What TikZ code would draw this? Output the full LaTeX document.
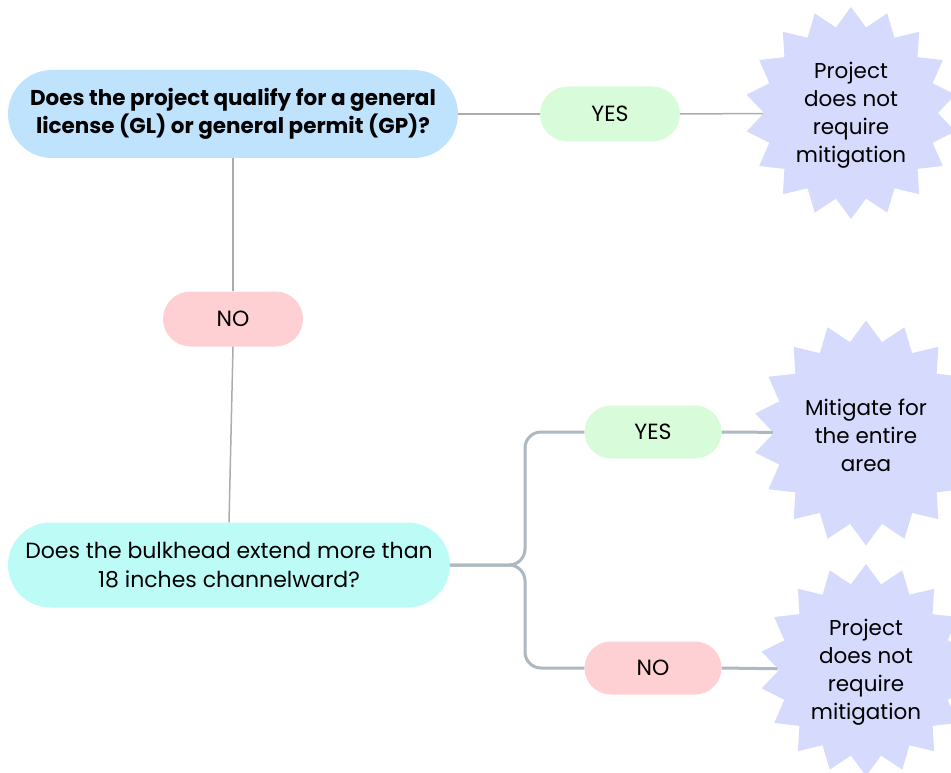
\documentclass[tikz,border=0pt]{standalone}
\usepackage{fontspec}
\setmainfont{Poppins}
\usetikzlibrary{shapes.geometric,shapes.misc}
\definecolor{qone}{RGB}{191,227,253}
\definecolor{qtwo}{RGB}{189,252,246}
\definecolor{yesc}{RGB}{216,252,218}
\definecolor{noc}{RGB}{255,208,211}
\definecolor{starc}{RGB}{214,218,252}
\definecolor{thinc}{RGB}{172,172,172}
\definecolor{branchc}{RGB}{174,184,192}
\tikzset{
  question/.style={rounded rectangle, inner sep=0pt, align=center, font=\fontsize{22}{28.5}\selectfont},
  pill/.style={rounded rectangle, minimum width=140pt, minimum height=55pt, inner sep=0pt, font=\fontsize{22}{26}\selectfont},
  burst/.style={star, star points=18, star point ratio=1.22, inner sep=0pt, fill=starc},
  bursttext/.style={align=center, font=\fontsize{21.5}{28}\selectfont, yshift=-2.5pt},
  thinline/.style={draw=thinc, line width=1.5pt},
  branch/.style={draw=branchc, line width=3pt, rounded corners=16pt}
}
\begin{document}
\begin{tikzpicture}[x=1pt,y=-1pt]
\useasboundingbox (0,0) rectangle (951,773);
\node[question, fill=qone, minimum width=450pt, minimum height=88pt, font=\fontsize{21.5}{28.5}\selectfont\bfseries] (q1) at (233,114)
  {\rule{0pt}{3pt}Does the project qualify for a general\\license (GL) or general permit (GP)?};
\node[pill, fill=yesc] (y1) at (610,114) {YES};
\node[burst, minimum size=212pt] (s1) at (851,113) {};
\node[bursttext] (t1) at (s1.center) {Project\\does not\\require\\mitigation};
\node[pill, fill=noc] (n1) at (233,319) {NO};
\node[question, fill=qtwo, minimum width=442pt, minimum height=85pt] (q2) at (229,565)
  {Does the bulkhead extend more than\\18 inches channelward?};
\coordinate (fork) at (525,565);
\node[pill, fill=yesc, minimum width=137pt, minimum height=53pt] (y2) at (653,432) {YES};
\node[pill, fill=noc, minimum width=137pt, minimum height=53pt] (n2) at (653,668) {NO};
\node[burst, minimum size=225pt] (s2) at (866,433) {};
\node[bursttext] (t2) at (s2.center) {Mitigate for\\the entire\\area};
\node[burst, minimum size=212pt] (s3) at (866,670) {};
\node[bursttext] (t3) at (s3.center) {Project\\does not\\require\\mitigation};
\draw[thinline] (q1.east) -- (y1.west);
\draw[thinline] (y1.east) -- (s1);
\draw[thinline] (q1.south) -- (n1.north);
\draw[thinline] (n1.south) -- (q2.north);
\draw[branch] (q2.east) -- (fork) |- (y2.west);
\draw[branch] (q2.east) -- (fork) |- (n2.west);
\draw[branch, rounded corners=0pt] (y2.east) -- (s2);
\draw[branch, rounded corners=0pt] (n2.east) -- (s3);
\end{tikzpicture}
\end{document}
